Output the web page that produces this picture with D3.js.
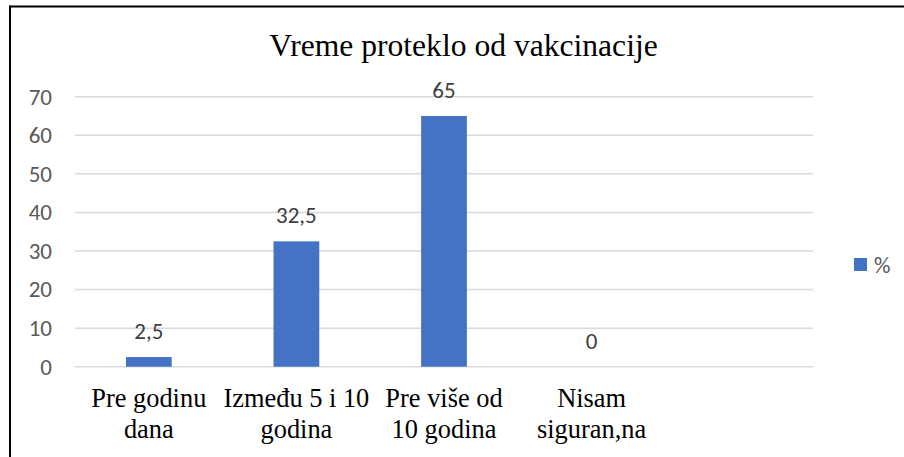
<!DOCTYPE html>
<html>
<head>
<meta charset="utf-8">
<script src="https://cdn.jsdelivr.net/npm/d3@7"></script>
<style>
body { margin: 0; background: #fff; }
</style>
</head>
<body>
<div id="chart"></div>
<script>
// data
var categories = ["Pre godinu\ndana", "Između 5 i 10\ngodina", "Pre više od\n10 godina", "Nisam\nsiguran,na", ""];
var values = [2.5, 32.5, 65, 0];
var yTicks = [0, 10, 20, 30, 40, 50, 60, 70];
var seriesName = "%";
var chartTitle = "Vreme proteklo od vakcinacije";

var W = 904, H = 457;
var margin = {top: 96.7, right: 91, bottom: 90.3, left: 75},
width = W - margin.left - margin.right,
height = H - margin.top - margin.bottom;

var sans = "Carlito, Calibri, 'Liberation Sans', sans-serif";
var serif = "'Liberation Serif', 'Times New Roman', serif";

var svg = d3.select("#chart")
.append("svg")
.attr("width", W)
.attr("height", H);

// frame (top and left edge visible)
svg.append("line").attr("x1", 10).attr("x2", W).attr("y1", 6.5).attr("y2", 6.5)
  .attr("stroke", "#000").attr("stroke-width", 2);
svg.append("line").attr("x1", 10).attr("x2", 10).attr("y1", 5.5).attr("y2", H)
  .attr("stroke", "#000").attr("stroke-width", 2);

// title
svg.append("text")
.attr("x", 463.5)
.attr("y", 56)
.attr("text-anchor", "middle")
.style("font-family", serif)
.style("font-size", "31.6px")
.style("fill", "#000")
.text(chartTitle);

var g = svg.append("g")
.attr("transform", "translate(" + margin.left + "," + margin.top + ")");

var x = d3.scaleBand()
.domain(categories)
.range([0, width])
.padding(0);

var y = d3.scaleLinear()
.domain([0, 70])
.range([height, 0]);

// gridlines
g.append("g")
.selectAll("line")
.data(yTicks)
.enter()
.append("line")
  .attr("x1", 0)
  .attr("x2", width)
  .attr("y1", function(d) { return y(d); })
  .attr("y2", function(d) { return y(d); })
  .attr("stroke", "#d9d9d9")
  .attr("stroke-width", 1.5);

// y axis labels
var yAxis = g.append("g")
.attr("transform", "translate(-23,0)")
.call(d3.axisLeft(y).tickValues(yTicks).tickSize(0).tickPadding(0));
yAxis.select(".domain").remove();
yAxis.selectAll("text")
.style("font-family", sans)
.style("font-size", "23px")
.style("fill", "#595959");

// bars
var barW = x.bandwidth() * 0.31;
g.append("g")
.selectAll("rect")
.data(values)
.enter()
.append("rect")
  .attr("x", function(d, i) { return x(categories[i]) + x.bandwidth() / 2 - barW / 2; })
  .attr("y", function(d) { return y(d); })
  .attr("width", barW)
  .attr("height", function(d) { return height - y(d); })
  .style("fill", "#4472c4");

// data labels
g.append("g")
.selectAll("text")
.data(values)
.enter()
.append("text")
  .attr("x", function(d, i) { return x(categories[i]) + x.bandwidth() / 2; })
  .attr("y", function(d) { return y(d) - 18; })
  .attr("text-anchor", "middle")
  .style("font-family", sans)
  .style("font-size", "23px")
  .style("fill", "#404040")
  .text(function(d) { return String(d).replace(".", ","); });

// x labels
var xl = g.append("g")
.selectAll("text")
.data(categories)
.enter()
.append("text")
  .attr("x", function(d) { return x(d) + x.bandwidth() / 2; })
  .attr("y", height + 40)
  .attr("text-anchor", "middle")
  .style("font-family", serif)
  .style("font-size", "26.4px")
  .style("fill", "#000");
xl.selectAll("tspan")
.data(function(d) { return d.split("\n"); })
.enter()
.append("tspan")
  .attr("x", function() { return d3.select(this.parentNode).attr("x"); })
  .attr("dy", function(d, i) { return i === 0 ? 0 : 31; })
  .text(function(d) { return d; });

// legend
var legend = svg.append("g").attr("transform", "translate(854,258)");
legend.append("rect").attr("width", 13).attr("height", 13).style("fill", "#4472c4");
legend.append("text")
.attr("x", 20)
.attr("y", 6.5)
.attr("dy", "0.35em")
.style("font-family", sans)
.style("font-size", "23px")
.style("fill", "#595959")
.text(seriesName);
</script>
</body>
</html>
